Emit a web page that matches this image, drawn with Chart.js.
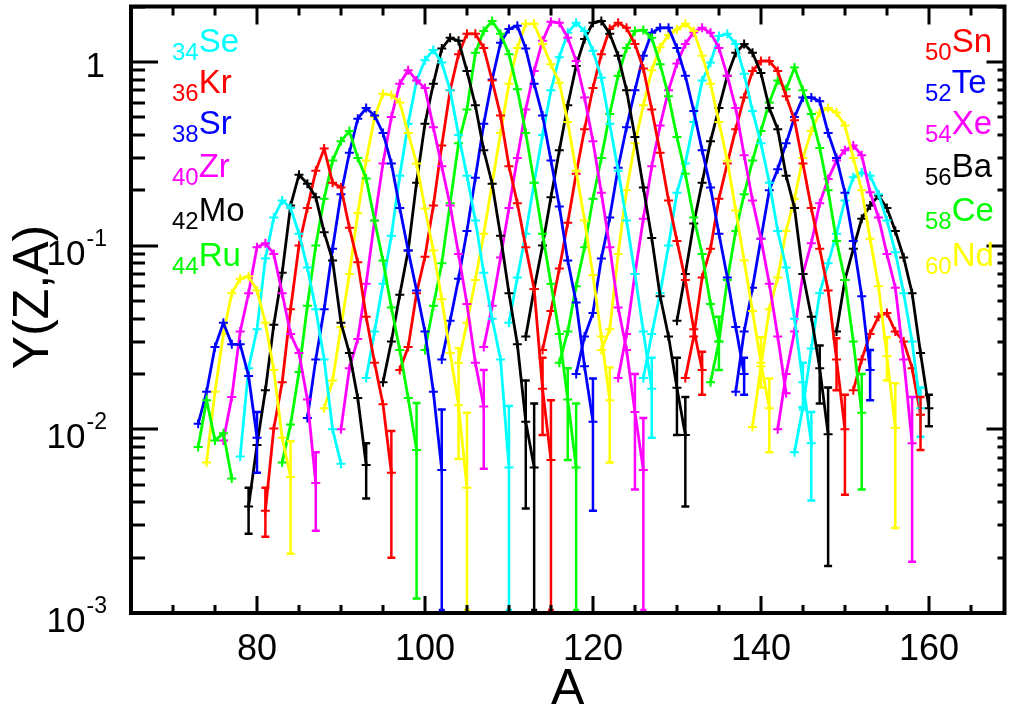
<!DOCTYPE html>
<html>
<head>
<meta charset="utf-8">
<script src="https://cdn.jsdelivr.net/npm/chart.js@4.4.1/dist/chart.umd.min.js"></script>
<style>
  html, body { margin: 0; padding: 0; background: #fff; }
  #wrap { width: 1011px; height: 710px; }
</style>
</head>
<body>
<div id="wrap"><canvas id="chart" width="1011" height="710"></canvas></div>
<script>
"use strict";

// isotopic yields Y(Z,A), one array per element, starting at A = firstA[Z]
const firstA = {
  30: 73, 31: 73, 32: 74, 33: 76, 34: 78, 35: 79, 36: 81, 37: 83, 38: 86, 39: 88,
  40: 90, 41: 93, 42: 95, 43: 97, 44: 100, 45: 102, 46: 104, 47: 107, 48: 110, 49: 112,
  50: 114, 51: 116, 52: 118, 53: 121, 54: 123, 55: 126, 56: 130, 57: 131, 58: 134, 59: 137,
  60: 139, 61: 142, 62: 144, 63: 149, 64: 151
};
const y30 = [0.008, 0.0144, 0.0087, 0.0095, 0.0054];
const y31 = [0.0107, 0.016, 0.028, 0.038, 0.029, 0.029, 0.0195, 0.009];
const y32 = [0.0066, 0.016, 0.033, 0.055, 0.066, 0.068, 0.057, 0.038, 0.021, 0.009, 0.0055];
const y33 = [0.0087, 0.015, 0.034, 0.055, 0.098, 0.103, 0.09, 0.055, 0.033, 0.026, 0.0145, 0.0051];
const y34 = [0.0071, 0.0215, 0.035, 0.085, 0.142, 0.176, 0.16, 0.116, 0.076, 0.045, 0.024, 0.010, 0.0065];
const y35 = [0.0038, 0.0082, 0.0163, 0.037, 0.071, 0.165, 0.243, 0.217, 0.183, 0.118, 0.083, 0.038, 0.026, 0.0148, 0.0064];
const y36 = [0.0036, 0.0101, 0.018, 0.045, 0.1, 0.16, 0.255, 0.337, 0.22, 0.207, 0.125, 0.081, 0.041, 0.023, 0.0137, 0.0058];
const y37 = [0.0066, 0.0106, 0.0205, 0.047, 0.1, 0.18, 0.29, 0.37, 0.42, 0.30, 0.232, 0.137, 0.083, 0.046, 0.027, 0.0148, 0.0077];
const y38 = [0.0115, 0.024, 0.045, 0.096, 0.19, 0.32, 0.49, 0.56, 0.51, 0.41, 0.28, 0.16, 0.094, 0.057, 0.034, 0.016, 0.006];
const y39 = [0.013, 0.0184, 0.036, 0.07, 0.15, 0.29, 0.50, 0.67, 0.66, 0.6, 0.41, 0.28, 0.159, 0.094, 0.051, 0.026, 0.0135, 0.0048];
const y40 = [0.01, 0.0215, 0.031, 0.062, 0.137, 0.28, 0.5, 0.76, 0.9, 0.79, 0.72, 0.44, 0.27, 0.165, 0.09, 0.048, 0.023, 0.0133];
const y41 = [0.019, 0.034, 0.062, 0.113, 0.24, 0.46, 0.79, 1.02, 1.16, 0.99, 0.70, 0.40, 0.24, 0.137, 0.071, 0.04, 0.024, 0.0062];
const y42 = [0.018, 0.030, 0.054, 0.094, 0.22, 0.46, 0.76, 1.18, 1.35, 1.3, 0.89, 0.58, 0.33, 0.217, 0.113, 0.055, 0.029, 0.011, 0.0062];
const y43 = [0.021, 0.028, 0.055, 0.087, 0.165, 0.35, 0.70, 1.1, 1.42, 1.42, 1.19, 0.79, 0.51, 0.27, 0.17, 0.098, 0.058, 0.0166, 0.0068];
const y44 = [0.027, 0.047, 0.08, 0.17, 0.36, 0.55, 1.12, 1.47, 1.67, 1.42, 1.1, 0.71, 0.41, 0.22, 0.116, 0.062, 0.033, 0.0145, 0.0062];
const y45 = [0.024, 0.039, 0.066, 0.12, 0.234, 0.46, 0.80, 1.27, 1.51, 1.57, 1.18, 0.76, 0.51, 0.29, 0.163, 0.083, 0.049, 0.022, 0.011];
const y46 = [0.023, 0.038, 0.065, 0.116, 0.217, 0.41, 0.76, 1.19, 1.61, 1.61, 1.25, 0.97, 0.77, 0.47, 0.255, 0.137, 0.069, 0.032, 0.0144];
const y47 = [0.028, 0.047, 0.086, 0.16, 0.30, 0.55, 0.89, 1.3, 1.65, 1.63, 1.35, 1.01, 0.64, 0.37, 0.194, 0.098, 0.046, 0.027, 0.0124, 0.006];
const y48 = [0.038, 0.067, 0.116, 0.22, 0.40, 0.70, 1.06, 1.44, 1.63, 1.47, 1.15, 0.82, 0.46, 0.255, 0.137, 0.07, 0.034, 0.0166];
const y49 = [0.032, 0.058, 0.1, 0.183, 0.33, 0.58, 0.95, 1.33, 1.63, 1.67, 1.42, 1.08, 0.70, 0.39, 0.207, 0.11, 0.053, 0.032, 0.0168, 0.0093];
const y50 = [0.027, 0.044, 0.075, 0.133, 0.246, 0.43, 0.72, 1.1, 1.51, 1.63, 1.53, 1.25, 0.92, 0.55, 0.32, 0.176, 0.106, 0.065, 0.035, 0.021];
const y51 = [0.023, 0.034, 0.06, 0.098, 0.18, 0.30, 0.52, 0.84, 1.19, 1.47, 1.49, 1.35, 0.97, 0.65, 0.39, 0.246, 0.142, 0.09, 0.048, 0.03];
const y52 = [0.020, 0.032, 0.043, 0.085, 0.142, 0.265, 0.44, 0.70, 1.08, 1.44, 1.53, 1.53, 1.19, 0.84, 0.54, 0.33, 0.207, 0.116, 0.067, 0.036, 0.020];
const y53 = [0.027, 0.035, 0.09, 0.2, 0.36, 0.58, 0.9, 1.2, 1.4, 1.5, 1.61, 1.47, 1.08, 0.76, 0.47, 0.29, 0.155, 0.083, 0.044, 0.023, 0.013];
const y54 = [0.019, 0.033, 0.07, 0.14, 0.27, 0.45, 0.7, 0.98, 1.25, 1.45, 1.53, 1.44, 1.19, 0.84, 0.56, 0.31, 0.176, 0.109, 0.062, 0.032, 0.0157];
const y55 = [0.019, 0.033, 0.055, 0.1, 0.194, 0.28, 0.47, 0.79, 0.99, 1.38, 1.42, 1.25, 0.86, 0.54, 0.36, 0.22, 0.12, 0.076, 0.04, 0.018, 0.0084];
const y56 = [0.039, 0.07, 0.132, 0.22, 0.37, 0.56, 0.84, 1.12, 1.25, 1.12, 0.87, 0.56, 0.43, 0.24, 0.16, 0.07, 0.041, 0.0215, 0.0094];
const y57 = [0.019, 0.032, 0.067, 0.096, 0.18, 0.28, 0.43, 0.64, 0.89, 1.01, 1.01, 0.89, 0.65, 0.48, 0.28, 0.16, 0.096, 0.057, 0.024, 0.01];
const y58 = [0.018, 0.03, 0.065, 0.12, 0.19, 0.29, 0.42, 0.6, 0.79, 0.71, 0.93, 0.70, 0.52, 0.34, 0.2, 0.106, 0.065, 0.03, 0.0123];
const y59 = [0.016, 0.034, 0.059, 0.109, 0.2, 0.26, 0.36, 0.50, 0.64, 0.64, 0.61, 0.41, 0.30, 0.194, 0.106, 0.053, 0.021];
const y60 = [0.0103, 0.022, 0.045, 0.067, 0.12, 0.18, 0.30, 0.42, 0.53, 0.56, 0.53, 0.45, 0.30, 0.2, 0.109, 0.06, 0.025, 0.0102];
const y61 = [0.01, 0.02, 0.034, 0.07, 0.103, 0.17, 0.23, 0.29, 0.33, 0.35, 0.31, 0.195, 0.142, 0.09, 0.059, 0.024, 0.0084];
const y62 = [0.0075, 0.0132, 0.0275, 0.055, 0.08, 0.116, 0.176, 0.235, 0.25, 0.24, 0.19, 0.137, 0.092, 0.055, 0.03, 0.013];
const y63 = [0.034, 0.065, 0.096, 0.14, 0.165, 0.187, 0.16, 0.12, 0.086, 0.055, 0.026, 0.013];
const y64 = [0.0163, 0.024, 0.033, 0.041, 0.043, 0.034, 0.030, 0.0215, 0.012];

const yieldsByZ = {
  30: y30, 31: y31, 32: y32, 33: y33, 34: y34, 35: y35, 36: y36, 37: y37, 38: y38, 39: y39,
  40: y40, 41: y41, 42: y42, 43: y43, 44: y44, 45: y45, 46: y46, 47: y47, 48: y48, 49: y49,
  50: y50, 51: y51, 52: y52, 53: y53, 54: y54, 55: y55, 56: y56, 57: y57, 58: y58, 59: y59,
  60: y60, 61: y61, 62: y62, 63: y63, 64: y64
};

// the large error bars at the low end: [Z, A, low, high]  (low 0 = below the axis)
const errorBars = [
  [31, 80, 0.0058, 0.0124], [32, 84, 0.0021, 0.0086], [33, 87, 0.0028, 0.0075],
  [35, 79, 0.0027, 0.0048], [35, 93, 0.0042, 0.0084], [36, 81, 0.0026, 0.0048],
  [36, 96, 0.002, 0.0098], [37, 99, 0.0012, 0.0139], [38, 102, 0, 0.0128],
  [39, 104, 0.0069, 0.0276], [39, 105, 0, 0.0123], [40, 107, 0.0061, 0.021],
  [41, 110, 0, 0.0134], [42, 112, 0.0037, 0.0184], [42, 113, 0, 0.0138],
  [43, 114, 0.0093, 0.0245], [43, 115, 0, 0.0144], [44, 117, 0.0068, 0.0215],
  [44, 118, 0, 0.0138], [45, 120, 0.0036, 0.0189], [46, 122, 0.0066, 0.0217],
  [47, 125, 0.0047, 0.02], [47, 126, 0, 0.0115], [48, 127, 0.009, 0.0245],
  [49, 130, 0.0093, 0.0245], [49, 131, 0.0038, 0.015], [50, 133, 0.0154, 0.0264],
  [51, 135, 0.021, 0.041], [52, 138, 0.0154, 0.0245], [53, 140, 0.0169, 0.0317],
  [53, 141, 0.0075, 0.0189], [55, 145, 0.0128, 0.023], [55, 146, 0.0041, 0.0124],
  [56, 147, 0.0138, 0.0286], [56, 148, 0.0018, 0.0169], [57, 149, 0.0163, 0.0313],
  [57, 150, 0.0044, 0.0154], [58, 152, 0.0047, 0.02], [59, 153, 0.0144, 0.027],
  [60, 155, 0.0184, 0.0317], [60, 156, 0.0029, 0.0178], [61, 158, 0.0019, 0.015],
  [62, 159, 0.0091, 0.0169], [63, 160, 0.0104, 0.0154], [64, 159, 0.0077, 0.015]
];

const leftLabels = [[34, "Se"], [36, "Kr"], [38, "Sr"], [40, "Zr"], [42, "Mo"], [44, "Ru"]];
const rightLabels = [[50, "Sn"], [52, "Te"], [54, "Xe"], [56, "Ba"], [58, "Ce"], [60, "Nd"]];
const xLabels = [80, 100, 120, 140, 160];
const yLabels = [0, -1, -2, -3]; // powers of ten

// colours repeat every 7 elements
const PALETTE = ["#00ffff", "#000000", "#ff0000", "#00ff00", "#0000ff", "#ffff00", "#ff00ff"];
function colorOf(z) { return PALETTE[((z - 34) % 7 + 7) % 7]; }

const FONT = '"Liberation Sans", Arial, sans-serif';

const datasets = Object.keys(yieldsByZ).map(Number).map(z => {
  const c = colorOf(z);
  return {
    label: "Z=" + z,
    data: yieldsByZ[z].map((v, i) => ({ x: firstA[z] + i, y: v })),
    borderColor: c,
    backgroundColor: c,
    borderWidth: 2.8,
    pointStyle: "cross",
    pointRadius: 4.5,
    pointBorderWidth: 2,
    pointBorderColor: c,
    tension: 0,
    fill: false
  };
});

// error bars, drawn through the scales
const errorBarPlugin = {
  id: "errorBars",
  afterDatasetsDraw(chart) {
    const { ctx, chartArea: ca, scales: { x, y } } = chart;
    ctx.save();
    ctx.beginPath();
    ctx.rect(ca.left, ca.top, ca.right - ca.left, ca.bottom - ca.top);
    ctx.clip();
    ctx.lineWidth = 2.5;
    errorBars.forEach(([z, a, lo, hi]) => {
      const px = x.getPixelForValue(a);
      const yHi = y.getPixelForValue(hi);
      const yLo = lo > 0 ? y.getPixelForValue(lo) : ca.bottom;
      ctx.strokeStyle = colorOf(z);
      ctx.beginPath();
      ctx.moveTo(px, yHi); ctx.lineTo(px, yLo);
      ctx.moveTo(px - 4, yHi); ctx.lineTo(px + 4, yHi);
      if (lo > 0) { ctx.moveTo(px - 4, yLo); ctx.lineTo(px + 4, yLo); }
      else { ctx.moveTo(px - 3, ca.bottom - 3); ctx.lineTo(px + 3, ca.bottom - 3); }
      ctx.stroke();
    });
    ctx.restore();
  }
};

// frame, inward ticks, labels, titles and the element names
const framePlugin = {
  id: "frame",
  afterDraw(chart) {
    const { ctx, chartArea: ca, scales: { x, y } } = chart;
    ctx.save();
    ctx.strokeStyle = "#000";
    ctx.fillStyle = "#000";

    // ticks
    ctx.lineWidth = 3;
    ctx.beginPath();
    for (let v = 70; v <= 165; v += 5) {
      const px = Math.round(x.getPixelForValue(v));
      const major = v % 20 === 0;
      ctx.moveTo(px, ca.bottom); ctx.lineTo(px, ca.bottom - (major ? 17 : 8));
      ctx.moveTo(px, ca.top); ctx.lineTo(px, ca.top + (major ? 18 : 9));
    }
    for (let d = -3; d <= 0; d++) {
      for (let m = 1; m <= 9; m++) {
        const v = m * Math.pow(10, d);
        if (v > 2.001) break;
        const py = Math.round(y.getPixelForValue(v));
        const major = m === 1;
        ctx.moveTo(ca.left, py); ctx.lineTo(ca.left + (major ? 27 : 14), py);
        ctx.moveTo(ca.right, py); ctx.lineTo(ca.right - (major ? 18 : 7), py);
      }
    }
    ctx.stroke();

    // frame
    ctx.lineWidth = 4;
    ctx.strokeRect(ca.left, ca.top, ca.right - ca.left, ca.bottom - ca.top);

    // x tick labels
    ctx.font = "36px " + FONT;
    ctx.textAlign = "center";
    ctx.textBaseline = "alphabetic";
    xLabels.forEach(v => ctx.fillText(String(v), x.getPixelForValue(v), 660));

    // y tick labels with superscripts
    ctx.textAlign = "right";
    yLabels.forEach(p => {
      const py = y.getPixelForValue(Math.pow(10, p));
      if (p === 0) {
        ctx.font = "35px " + FONT;
        ctx.fillText("1", 105, py + 15);
        return;
      }
      const sup = String(p);
      ctx.font = "23px " + FONT;
      const sw = ctx.measureText(sup).width;
      ctx.fillText(sup, 107, py);
      ctx.font = "35px " + FONT;
      ctx.fillText("10", 107 - sw - 1, py + 19);
    });

    // axis titles
    ctx.font = "50px " + FONT;
    ctx.textAlign = "center";
    ctx.fillText("A", (ca.left + ca.right) / 2, 704);
    ctx.save();
    ctx.translate(48, 297);
    ctx.rotate(-Math.PI / 2);
    ctx.font = "50px " + FONT;
    ctx.fillText("Y(Z,A)", 0, 0);
    ctx.restore();

    // element names with the charge as subscript
    const rows = [52, 93, 134, 177, 221, 266];
    ctx.textAlign = "left";
    const drawLabel = (z, sym, x0, base) => {
      ctx.fillStyle = colorOf(z);
      ctx.font = "24px " + FONT;
      ctx.fillText(String(z), x0, base + 8);
      const w = ctx.measureText(String(z)).width;
      ctx.font = "33px " + FONT;
      ctx.fillText(sym, x0 + w, base);
    };
    leftLabels.forEach(([z, s], i) => drawLabel(z, s, 172, rows[i]));
    rightLabels.forEach(([z, s], i) => drawLabel(z, s, 925, rows[i]));

    ctx.restore();
  }
};

const canvas = document.getElementById("chart");
const chart = new Chart(canvas.getContext("2d"), {
  type: "line",
  data: { datasets: datasets },
  options: {
    responsive: false,
    animation: false,
    devicePixelRatio: 1,
    layout: { padding: { left: 131, right: 3, top: 5, bottom: 97 } },
    plugins: { legend: { display: false }, tooltip: { enabled: false } },
    scales: {
      x: { type: "linear", min: 65, max: 169, display: false },
      y: { type: "logarithmic", min: 0.001, max: 2, display: false }
    }
  },
  plugins: [errorBarPlugin, framePlugin]
});
</script>
</body>
</html>
